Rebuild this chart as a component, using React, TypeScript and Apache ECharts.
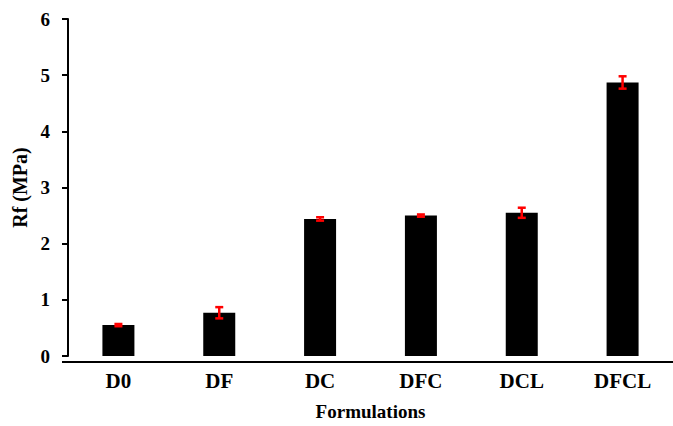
import React, { useEffect, useRef } from "react";
import * as echarts from "echarts";

const categories = ["D0", "DF", "DC", "DFC", "DCL", "DFCL"];
const means = [0.55, 0.77, 2.44, 2.5, 2.55, 4.87];
const errors = [0.02, 0.1, 0.03, 0.02, 0.09, 0.11];
const yTicks = [0, 1, 2, 3, 4, 5, 6];

const FONT = "Liberation Serif";

export default function App() {
  const ref = useRef<HTMLDivElement>(null);
  useEffect(() => {
    document.body.style.margin = "0";
    if (!ref.current) return;
    const chart = echarts.init(ref.current, undefined, { renderer: "svg" });
    chart.setOption({
      animation: false,
      backgroundColor: "#ffffff",
      grid: { left: 68, top: 19, width: 612, height: 343, containLabel: false },
      graphic: [
        {
          type: "line",
          shape: { x1: 62, y1: 362, x2: 673, y2: 362 },
          style: { stroke: "#000", lineWidth: 2 },
          z: 5,
        },
      ],
      xAxis: {
        type: "category",
        data: categories,
        name: "Formulations",
        nameLocation: "middle",
        nameGap: 46,
        nameTextStyle: { fontFamily: FONT, fontWeight: "bold", fontSize: 19, color: "#000" },
        axisLine: { show: false },
        axisTick: { show: false },
        axisLabel: { fontFamily: FONT, fontWeight: "bold", fontSize: 21, color: "#000", margin: 14 },
      },
      yAxis: {
        type: "value",
        min: yTicks[0],
        max: yTicks[yTicks.length - 1],
        interval: 1,
        name: "Rf (MPa)",
        nameLocation: "middle",
        nameGap: 29,
        nameTextStyle: { fontFamily: FONT, fontWeight: "bold", fontSize: 20, color: "#000" },
        axisLine: { show: true, lineStyle: { color: "#000", width: 2 } },
        axisTick: { show: true, inside: false, length: 6, lineStyle: { color: "#000", width: 2 } },
        axisLabel: { fontFamily: FONT, fontWeight: "bold", fontSize: 19, color: "#000", margin: 18 },
        splitLine: { show: false },
      },
      series: [
        {
          type: "bar",
          data: means,
          barWidth: 32,
          itemStyle: { color: "#000" },
        },
        {
          type: "custom",
          data: means.map((m, i) => [i, m - errors[i], m + errors[i]]),
          renderItem: (params: any, api: any) => {
            const x = api.value(0);
            const lo = api.coord([x, api.value(1)]);
            const hi = api.coord([x, api.value(2)]);
            const w = 4;
            const style = { stroke: "#ff0000", lineWidth: 2.5 };
            return {
              type: "group",
              children: [
                { type: "line", shape: { x1: lo[0], y1: lo[1], x2: hi[0], y2: hi[1] }, style },
                { type: "line", shape: { x1: lo[0] - w, y1: lo[1], x2: lo[0] + w, y2: lo[1] }, style },
                { type: "line", shape: { x1: hi[0] - w, y1: hi[1], x2: hi[0] + w, y2: hi[1] }, style },
              ],
            };
          },
          z: 10,
        },
      ],
    });
    return () => chart.dispose();
  }, []);
  return <div ref={ref} style={{ width: 673, height: 426, background: "#fff" }} />;
}
